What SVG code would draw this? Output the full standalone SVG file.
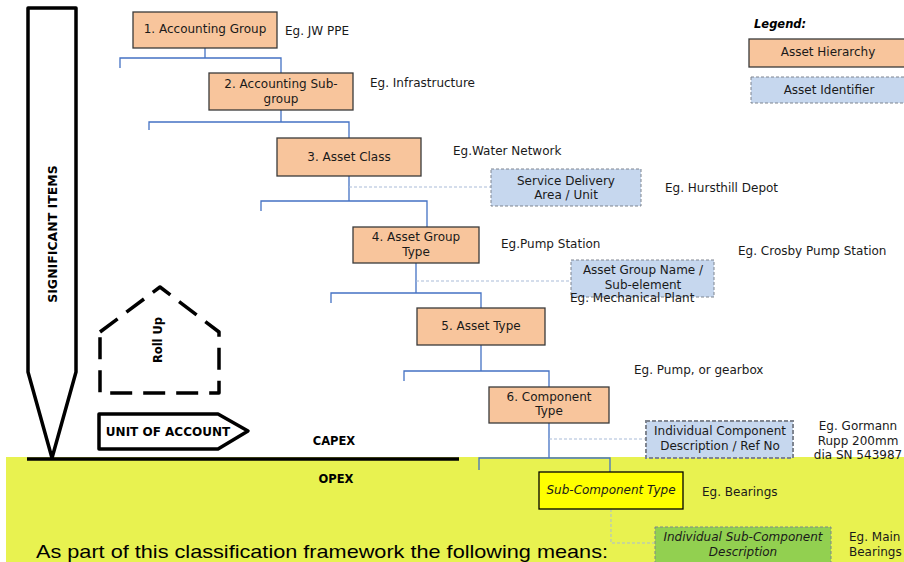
<svg xmlns="http://www.w3.org/2000/svg" width="904" height="562" viewBox="0 0 904 562">
<style>
text{font-family:"DejaVu Sans","Liberation Sans",sans-serif;font-size:12px;fill:#1a1a1a}
.c{text-anchor:middle}
.b{font-weight:bold;fill:#000}
.i{font-style:italic}
.h{fill:#F8C59C;stroke:#3a3a3a;stroke-width:1.3}
.id{fill:#C6D7EE;stroke:#7f8590;stroke-width:1;stroke-dasharray:3 2}
.conn{fill:none;stroke:#4472C4;stroke-width:1.3}
.dl{fill:none;stroke:#A9BBD8;stroke-width:1;stroke-dasharray:3 2}
.heavy{fill:none;stroke:#000;stroke-width:3.5;stroke-linejoin:round}
</style>
<rect width="904" height="562" fill="#fff"/>
<rect x="6" y="457" width="898" height="105" fill="#E8F250"/>
<line x1="27" y1="459" x2="459" y2="459" stroke="#000" stroke-width="3.5"/>

<g id="significant-items">
<path class="heavy" d="M28,8 H76 V372 L52,458 L28,372 Z"/>
<text class="b c" transform="translate(56.5,234) rotate(-90)" style="font-size:12.5px">SIGNIFICANT ITEMS</text>
</g>
<g id="roll-up">
<path class="heavy" d="M100,332 L160,287 L219,332 V393 H100 Z" stroke-dasharray="22 11" stroke-linejoin="miter"/>
<text class="b c" transform="translate(162,340) rotate(-90)" style="font-size:11.5px">Roll Up</text>
</g>
<g id="unit-of-account">
<path class="heavy" d="M99,414 H218 L248,431 L218,449 H99 Z"/>
<text class="b c" x="168" y="436">UNIT OF ACCOUNT</text>
</g>
<text class="b c" x="334" y="445" style="font-size:11.5px">CAPEX</text>
<text class="b c" x="336" y="483" style="font-size:11.5px">OPEX</text>

<g id="connectors">
<path class="conn" d="M205,48 V58 M120,68 V58 H281 V73"/>
<path class="conn" d="M281,110 V122 M149,130 V122 H349 V138"/>
<path class="conn" d="M349,176 V201 M261,211 V201 H427 V227"/>
<path class="conn" d="M416,263 V293 M331,303 V293 H481 V308"/>
<path class="conn" d="M481,345 V371 M404,381 V371 H549 V387"/>
<path class="conn" d="M549,423 V458 M479,470 V458 H610 V472"/>
<path class="dl" d="M349,187 H491"/>
<path class="dl" d="M416,281 H571"/>
<path class="dl" d="M549,439 H646"/>
<path class="dl" d="M611,509 V543 H654"/>
</g>

<g id="n1"><rect class="h" x="133" y="12" width="144" height="36"/><text class="c" x="205" y="33">1. Accounting Group</text></g>
<text x="285" y="35">Eg. JW PPE</text>
<g id="n2"><rect class="h" x="209" y="73" width="144" height="37"/><text class="c" x="281" y="88">2. Accounting Sub-</text><text class="c" x="281" y="103">group</text></g>
<text x="370" y="87">Eg. Infrastructure</text>
<g id="n3"><rect class="h" x="277" y="138" width="144" height="38"/><text class="c" x="349" y="161">3. Asset Class</text></g>
<text x="453" y="155">Eg.Water Network</text>
<g id="sda"><rect class="id" x="491" y="169" width="150" height="37"/><text class="c" x="566" y="185">Service Delivery</text><text class="c" x="566" y="199">Area / Unit</text></g>
<text x="665" y="192">Eg. Hursthill Depot</text>
<g id="n4"><rect class="h" x="353" y="227" width="126" height="36"/><text class="c" x="416" y="241">4. Asset Group</text><text class="c" x="416" y="256">Type</text></g>
<text x="501" y="248">Eg.Pump Station</text>
<text x="738" y="255">Eg. Crosby Pump Station</text>
<g id="agn"><rect class="id" x="571" y="260" width="143" height="37"/><text class="c" x="643" y="274">Asset Group Name /</text><text class="c" x="643" y="289">Sub-element</text></g>
<text x="570" y="302">Eg. Mechanical Plant</text>
<g id="n5"><rect class="h" x="417" y="308" width="128" height="37"/><text class="c" x="481" y="330">5. Asset Type</text></g>
<text x="634" y="374">Eg. Pump, or gearbox</text>
<g id="n6"><rect class="h" x="489" y="387" width="120" height="36"/><text class="c" x="549" y="401">6. Component</text><text class="c" x="549" y="415">Type</text></g>
<g id="icd"><rect class="id" x="646" y="421" width="147" height="37" style="stroke-width:2;stroke-dasharray:4 2"/><text class="c" x="720" y="435">Individual Component</text><text class="c" x="720" y="450">Description / Ref No</text></g>
<text class="c" x="858" y="430">Eg. Gormann</text>
<text class="c" x="858" y="445">Rupp 200mm</text>
<text class="c" x="858" y="459">dia SN 543987</text>
<g id="subcomp"><rect x="539" y="472" width="144" height="37" fill="#FFFF00" stroke="#000" stroke-width="1.3"/><text class="c i" x="611" y="494">Sub-Component Type</text></g>
<text x="702" y="496">Eg. Bearings</text>
<g id="isc"><rect x="655" y="527" width="176" height="40" fill="#92D050" stroke="#7f8590" stroke-width="1" stroke-dasharray="3 2"/><text class="c i" x="743" y="541">Individual Sub-Component</text><text class="c i" x="743" y="556">Description</text></g>
<text x="849" y="541">Eg. Main</text>
<text x="849" y="556">Bearings</text>

<g id="legend">
<text class="b i" x="754" y="28" style="font-size:11.5px">Legend:</text>
<rect class="h" x="749" y="39" width="160" height="28"/><text class="c" x="828" y="56">Asset Hierarchy</text>
<rect class="id" x="751" y="77" width="158" height="26"/><text class="c" x="829" y="94">Asset Identifier</text>
</g>

<text x="36" y="558" textLength="572" lengthAdjust="spacingAndGlyphs" style="font-family:'Liberation Sans',Arial,sans-serif;font-size:19px;fill:#000">As part of this classification framework the following means:</text>
</svg>
